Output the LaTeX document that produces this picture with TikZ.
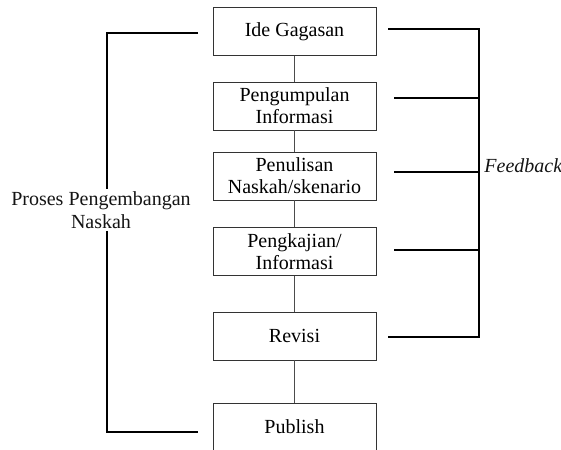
\documentclass[tikz,border=0pt]{standalone}
\usepackage{fontspec}
\setmainfont{Liberation Serif}
\tikzstyle{every path}=[line width=0.6pt]
\tikzstyle{stage} = [draw=black!80, minimum width=122.25pt, minimum height=36pt,
    inner sep=1pt, align=center, font=\fontsize{15pt}{16.5pt}\selectfont]
\tikzstyle{link} = [draw=black!70]
\tikzstyle{bracket} = [line width=1pt]
\definecolor{labeltext}{RGB}{20,20,20}

\begin{document}
\begin{tikzpicture}[x=0.75pt, y=-0.75pt]
            \useasboundingbox (0,0) rectangle (561,450);

            % the stages
            \node[stage] (ide) at (294.5,31.5) {Ide Gagasan};
            \node[stage] (kumpul) at (294.5,106) {Pengumpulan\\Informasi};
            \node[stage] (tulis) at (294.5,176) {Penulisan\\Naskah/skenario};
            \node[stage] (kaji) at (294.5,251.5) {Pengkajian/\\Informasi};
            \node[stage] (revisi) at (294.5,336) {Revisi};
            \node[stage] (publish) at (294.5,427) {Publish};

            \draw[link] (ide) -- (kumpul);
            \draw[link] (kumpul) -- (tulis);
            \draw[link] (tulis) -- (kaji);
            \draw[link] (kaji) -- (revisi);
            \draw[link] (revisi) -- (publish);

            % left bracket
            \node[text=labeltext, align=center, inner sep=1.5pt,
                font=\fontsize{15pt}{17.25pt}\selectfont]
                (proses) at (101,210) {Proses Pengembangan\\Naskah};
            \coordinate (lt) at (107,33);
            \coordinate (ltend) at (198,33);
            \coordinate (lb) at (107,432);
            \coordinate (lbend) at (198,432);
            \draw[bracket] (ltend) -- (lt) -- (lt |- proses.north);
            \draw[bracket] (lt |- proses.south) -- (lb) -- (lbend);

            % right bracket
            \coordinate (rt) at (479,29);
            \coordinate (rtstart) at (388,29);
            \coordinate (rb) at (479,337);
            \coordinate (rbstart) at (388,337);
            \draw[bracket] (rtstart) -- (rt) -- (rb) -- (rbstart);
            \foreach \y/\n in {98/a, 172/b, 250/c} {
                \coordinate (tick\n) at (394,\y);
                \draw[bracket] (tick\n) -- (tick\n -| rt);
            }
            \node[anchor=west, inner sep=0pt, text=labeltext,
                font=\fontsize{15pt}{16.5pt}\selectfont\itshape]
                (feedback) at (484,166) {Feedback};
        \end{tikzpicture}
\end{document}
